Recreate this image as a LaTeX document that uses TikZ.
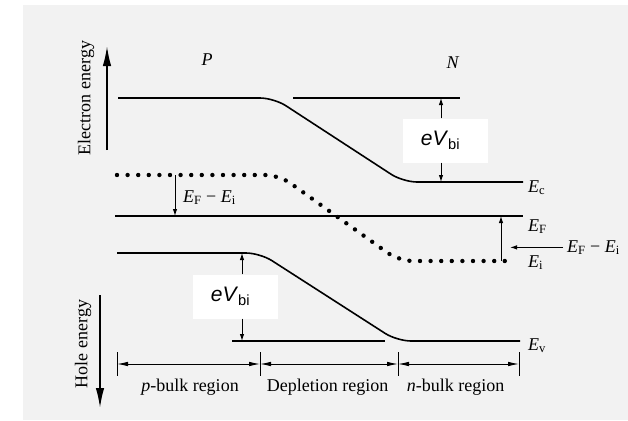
\documentclass[tikz,border=0pt]{standalone}
\usepackage{fontspec}
\setmainfont{Liberation Serif}
\newfontfamily\bisans{Liberation Sans}
\usepackage{tikz}
\usetikzlibrary{arrows.meta, positioning, calc}

\tikzset{
    band/.style={line width=1.6pt, rounded corners=14pt},
    refline/.style={line width=1.3pt},
    dotband/.style={line width=4.4pt, line cap=round, dash pattern=on 0pt off 10.6pt, rounded corners=14pt},
    axis/.style={line width=1.7pt, -{Latex[length=20pt, width=8.5pt]}},
    gap/.style={line width=1pt, -{Latex[length=7pt, width=4.5pt]}},
    dim/.style={line width=0.9pt, {Latex[length=11pt, width=4.5pt]}-{Latex[length=11pt, width=4.5pt]}},
    lab/.style={font=\fontsize{18}{20}\selectfont, inner sep=0pt},
    bibox/.style={fill=white, minimum width=85pt, minimum height=44pt, inner sep=0pt, font=\bisans\fontsize{21}{24}\selectfont},
}

\begin{document}
\begin{tikzpicture}[x=1pt, y=-1pt]
    \useasboundingbox (0,0) rectangle (628,420);
    \fill[black!5] (23,5) rectangle (628,420);

    % energy axes
    \coordinate (eTail) at (107,150);
    \coordinate (eHead) at (107,46);
    \coordinate (hTail) at (100,295);
    \coordinate (hHead) at (100,408);
    \draw[axis] (eTail) -- (eHead);
    \draw[axis] (hTail) -- (hHead);
    \node[lab, rotate=90] (eAxis) at (86,98) {Electron energy};
    \node[lab, rotate=90] (hAxis) at (83,344) {Hole energy};

    \node[lab] (pSide) at (207,60) {\textit{P}};
    \node[lab] (nSide) at (453,63) {\textit{N}};

    % bands and levels
    \draw[band] (118,98) -- (274,98) -- (403,182) -- (523,182) coordinate (Ec);
    \draw[refline] (293,98) -- (460,98);
    \draw[dotband] (117,175) -- (279,175) -- (399,261) -- (515,261) coordinate (Ei);
    \draw[band] (115,216) -- (523,216) coordinate (EF);
    \draw[band] (117,253) -- (260,253) -- (397,341) -- (520,341) coordinate (Ev);
    \draw[refline] (232,341) -- (385,341);

    \node[lab, anchor=base west] (EcLabel) at (528,192) {\textit{E}\textsubscript{c}};
    \node[lab, anchor=base west] (EFLabel) at (528,231) {\textit{E}\textsubscript{F}};
    \node[lab, anchor=base west] (EiLabel) at (528,267) {\textit{E}\textsubscript{i}};
    \node[lab, anchor=base west] (EvLabel) at (528,350) {\textit{E}\textsubscript{v}};

    % built-in potential
    \node[bibox] (biN) at (445.5,140.5) {\textit{eV}\textsubscript{bi}\kern10pt};
    \coordinate (cTop) at (441,98);
    \coordinate (cBot) at (441,182);
    \draw[gap] (biN.north -| cTop) -- (cTop);
    \draw[gap] (biN.south -| cBot) -- (cBot);

    \node[bibox] (biP) at (235.5,296.5) {\textit{eV}\textsubscript{bi}\kern10pt};
    \coordinate (vTop) at (242,253);
    \coordinate (vBot) at (242,341);
    \draw[gap] (biP.north -| vTop) -- (vTop);
    \draw[gap] (biP.south -| vBot) -- (vBot);

    % Fermi level offsets
    \coordinate (iP) at (175,175);
    \coordinate (fP) at (175,216);
    \draw[gap] (iP) -- (fP);
    \node[lab, anchor=base west] (fiP) at (183,202) {\textit{E}\textsubscript{F} − \textit{E}\textsubscript{i}};

    \coordinate (iN) at (501,261);
    \coordinate (fN) at (501,216);
    \draw[gap] (iN) -- (fN);
    \node[lab, anchor=base west] (fiN) at (567,252) {\textit{E}\textsubscript{F} − \textit{E}\textsubscript{i}};
    \coordinate (fiTip) at (510,244);
    \draw[gap] (fiN.west) ++(-4,0) -- (fiN.west -| fiTip);

    % regions
    \foreach \x/\n in {117/t1, 260/t2, 398/t3, 519/t4}
        \draw[line width=0.9pt] (\x,352) -- (\x,376) coordinate[midway] (\n);
    \draw[dim] (t1) -- (t2);
    \draw[dim] (t2) -- (t3);
    \draw[dim] (t3) -- (t4);
    \node[lab, anchor=base] (pBulk) at ($(t1)!.5!(t2)+(1.5,27)$) {\textit{p}-bulk region};
    \node[lab, anchor=base] (depl) at ($(t2)!.5!(t3)+(-1.5,27)$) {Depletion region};
    \node[lab, anchor=base] (nBulk) at ($(t3)!.5!(t4)+(-3,27)$) {\textit{n}-bulk region};
\end{tikzpicture}
\end{document}
